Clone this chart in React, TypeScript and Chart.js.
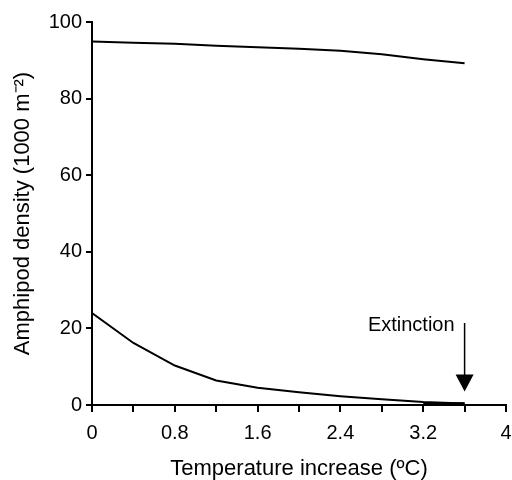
import React, { useEffect, useRef } from "react";
import { Chart, registerables } from "chart.js";

Chart.register(...registerables);

const temps = [0, 0.4, 0.8, 1.2, 1.6, 2.0, 2.4, 2.8, 3.2, 3.6];
const upperDensity = [94.9, 94.6, 94.3, 93.8, 93.4, 93.0, 92.5, 91.6, 90.3, 89.2];
const lowerDensity = [24.0, 16.2, 10.3, 6.4, 4.5, 3.3, 2.3, 1.5, 0.8, 0.4];
const extinctTemps = [3.2, 3.6];
const extinctDensity = [0.3, 0.3];
const arrowX = 3.6;
const arrowTop = 21.4;
const arrowTip = 3.5;
const annotationText = "Extinction";
const xTitle = "Temperature increase (ºC)";
const yTitle = "Amphipod density (1000 m⁻²)";

const FONT = "'Liberation Sans', Arial, Helvetica, sans-serif";

const arrowPlugin = {
  id: "extinctionArrow",
  afterDatasetsDraw(chart: any) {
    const { ctx, scales } = chart;
    const x = scales.x.getPixelForValue(arrowX);
    const yTop = scales.y.getPixelForValue(arrowTop);
    const yTip = scales.y.getPixelForValue(arrowTip);
    ctx.save();
    ctx.strokeStyle = "#000";
    ctx.fillStyle = "#000";
    ctx.lineWidth = 1.5;
    ctx.beginPath();
    ctx.moveTo(x, yTop);
    ctx.lineTo(x, yTip - 14);
    ctx.stroke();
    ctx.beginPath();
    ctx.moveTo(x - 9, yTip - 17);
    ctx.lineTo(x + 9, yTip - 17);
    ctx.lineTo(x, yTip);
    ctx.closePath();
    ctx.fill();
    ctx.font = `20px ${FONT}`;
    ctx.textAlign = "right";
    ctx.textBaseline = "middle";
    ctx.fillText(annotationText, x - 10, yTop + 2);
    ctx.restore();
  },
};

export default function App() {
  const ref = useRef<HTMLCanvasElement | null>(null);
  useEffect(() => {
    if (!ref.current) return;
    const chart = new Chart(ref.current, {
      type: "line",
      data: {
        datasets: [
          {
            data: temps.map((t, i) => ({ x: t, y: upperDensity[i] })),
            borderColor: "#000",
            borderWidth: 2,
            pointRadius: 0,
            tension: 0,
          },
          {
            data: temps.map((t, i) => ({ x: t, y: lowerDensity[i] })),
            borderColor: "#000",
            borderWidth: 2,
            pointRadius: 0,
            tension: 0,
          },
          {
            data: extinctTemps.map((t, i) => ({ x: t, y: extinctDensity[i] })),
            borderColor: "#000",
            borderWidth: 3,
            pointRadius: 0,
          },
        ],
      },
      options: {
        animation: false,
        responsive: true,
        maintainAspectRatio: false,
        layout: { padding: { top: 22, right: 6, left: 0, bottom: 0 } },
        plugins: { legend: { display: false }, tooltip: { enabled: false } },
        scales: {
          x: {
            type: "linear",
            min: 0,
            max: 4,
            afterFit: (s: any) => {
              s.height = 75;
              s.paddingLeft = 0;
              s.paddingRight = 0;
            },
            afterBuildTicks: (s: any) => {
              const t = [];
              for (let i = 0; i <= 10; i++) t.push({ value: Math.round(i * 0.4 * 10) / 10 });
              s.ticks = t;
            },
            ticks: {
              autoSkip: false,
              maxRotation: 0,
              color: "#000",
              padding: 9,
              font: { family: FONT, size: 20 },
              callback: (v: any) => {
                const r = v / 0.8;
                return Math.abs(r - Math.round(r)) < 1e-6 ? String(Number(Number(v).toFixed(1))) : "";
              },
            },
            grid: {
              drawOnChartArea: false,
              drawTicks: true,
              tickLength: 7,
              color: "#000",
              lineWidth: 2,
            },
            border: { display: true, color: "#000", width: 2 },
            title: {
              display: true,
              text: xTitle,
              color: "#000",
              font: { family: FONT, size: 22 },
              padding: { top: 0, bottom: -2 },
            },
          },
          y: {
            min: 0,
            max: 100,
            afterFit: (s: any) => {
              s.width = 92;
            },
            ticks: {
              stepSize: 20,
              color: "#000",
              padding: 4,
              font: { family: FONT, size: 20 },
            },
            grid: {
              drawOnChartArea: false,
              drawTicks: true,
              tickLength: 6,
              color: "#000",
              lineWidth: 2,
            },
            border: { display: true, color: "#000", width: 2 },
            title: {
              display: true,
              text: yTitle,
              color: "#000",
              font: { family: FONT, size: 22 },
              padding: { top: 10, bottom: 0 },
            },
          },
        },
      },
      plugins: [arrowPlugin],
    });
    return () => chart.destroy();
  }, []);
  return (
    <div style={{ position: "absolute", left: 0, top: 0, width: 512, height: 480, background: "#fff" }}>
      <canvas ref={ref} />
    </div>
  );
}
